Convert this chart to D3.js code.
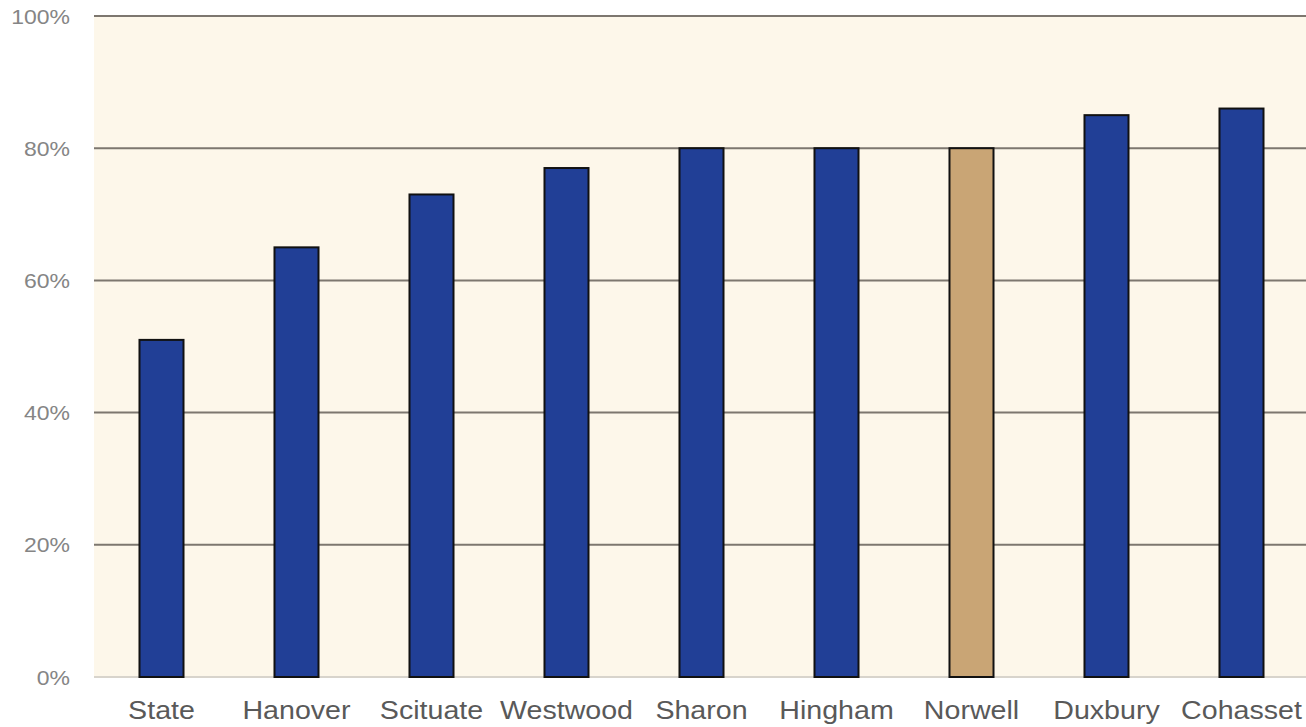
<!DOCTYPE html>
<html><head><meta charset="utf-8">
<script src="https://cdn.jsdelivr.net/npm/d3@7"></script>
<style>html,body{margin:0;padding:0;background:#fff;}svg{display:block;}</style>
</head><body>
<svg id="chart" width="1306" height="727"></svg>
<script>
const categories = ["State","Hanover","Scituate","Westwood","Sharon","Hingham","Norwell","Duxbury","Cohasset"];
const values = [51,65,73,77,80,80,80,85,86];
const highlight = ["Norwell"];
const yTicks = [0,20,40,60,80,100];

const svg = d3.select("#chart");
const x = d3.scaleBand().domain(categories).range([94,1309]).paddingInner(0.674).paddingOuter(0.337);
const y = d3.scaleLinear().domain([0,100]).range([677,16]);

svg.append("rect").attr("x",94).attr("y",y(100)).attr("width",1306-94).attr("height",y(0)-y(100)).attr("fill","#fdf7ea");

const grid = svg.append("g");
grid.selectAll("line").data(yTicks).join("line")
  .attr("x1",94).attr("x2",1306)
  .attr("y1",d=>y(d)).attr("y2",d=>y(d))
  .attr("stroke",d=>d===0?"#d8d4cc":"#7d776f").attr("stroke-width",2);

const yAxis = d3.axisLeft(y).tickValues(yTicks).tickFormat(d=>d+"%").tickSize(0).tickPadding(0);
const ya = svg.append("g").attr("transform","translate(70,0)").call(yAxis);
ya.select(".domain").remove();
ya.selectAll("text").attr("font-family","Liberation Sans, Arial, sans-serif").attr("font-size",20).attr("fill","#858585").attr("dy","0.35em").attr("transform","scale(1.15,1)");

svg.append("g").selectAll("rect").data(categories).join("rect")
  .attr("x",d=>x(d)).attr("width",x.bandwidth())
  .attr("y",(d,i)=>y(values[i])).attr("height",(d,i)=>y(0)-y(values[i]))
  .attr("fill",d=>highlight.includes(d)?"#c9a575":"#213f96")
  .attr("stroke","#111").attr("stroke-width",2);

const xAxis = d3.axisBottom(x).tickSize(0).tickPadding(0);
const xa = svg.append("g").attr("transform","translate(0,719)").call(xAxis);
xa.select(".domain").remove();
xa.selectAll("text").attr("font-family","Liberation Sans, Arial, sans-serif").attr("font-size",26).attr("fill","#595959").attr("dy","0").attr("transform","scale(1.1,1)");
</script>
</body></html>
